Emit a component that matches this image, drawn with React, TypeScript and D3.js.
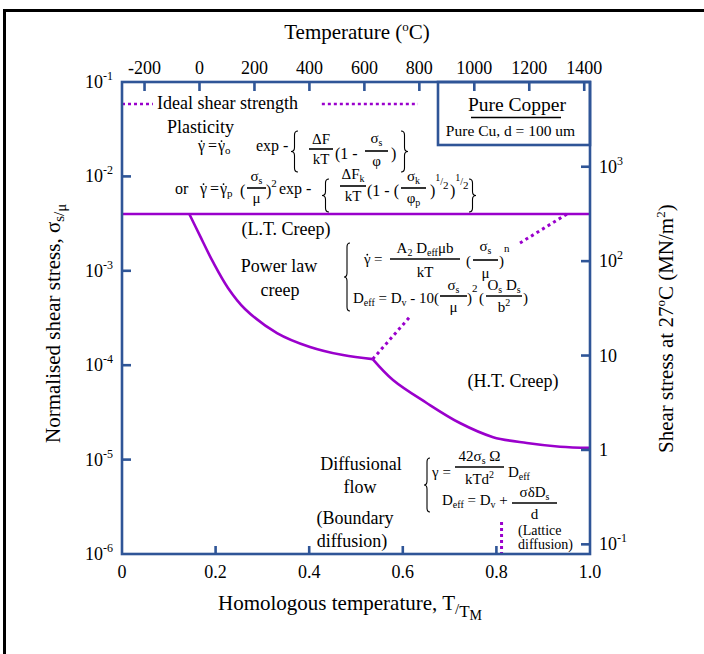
import React from "react";
import * as d3 from "d3";

const W = 704;
const H = 654;
const FONT = "'Liberation Serif','Times New Roman',Times,serif";
const BLUE = "#2f5597";
const PURPLE = "#9a00cc";

// ---- data ----
const homologousTicks = [0, 0.2, 0.4, 0.6, 0.8, 1.0];
const homologousTickLabels = ["0", "0.2", "0.4", "0.6", "0.8", "1.0"];
const temperatureTicks = [-200, 0, 200, 400, 600, 800, 1000, 1200, 1400];
const temperatureDomain = [-282, 1421];
const stressTicks = [1e-1, 1e-2, 1e-3, 1e-4, 1e-5, 1e-6];
const stressTickExponents = ["-1", "-2", "-3", "-4", "-5", "-6"];
const shearModulus = 7.9e4; // MN/m^2, links left and right axes
const shearTicks = [1000, 100, 10, 1, 0.1];
const shearTickBases = ["10", "10", "10", "1", "10"];
const shearTickExponents = ["3", "2", "", "", "-1"];

const ltCreepStress = 4.0e-3;
const idealStrength = 5.85e-2;
const idealSegmentsT = [
  [0, 0.066],
  [0.427, 0.6325],
];
const powerLawBoundaryT = [0.1438, 0.1667, 0.1944, 0.2265, 0.2628, 0.3312, 0.4017, 0.4722, 0.5357];
const powerLawBoundaryS = [4.0e-3, 2.34e-3, 1.24e-3, 6.58e-4, 3.94e-4, 2.19e-4, 1.56e-4, 1.28e-4, 1.16e-4];
const diffusionBoundaryT = [0.5357, 0.579, 0.651, 0.722, 0.793, 0.865, 0.936, 1.0];
const diffusionBoundaryS = [1.16e-4, 6.97e-5, 3.98e-5, 2.44e-5, 1.73e-5, 1.5e-5, 1.37e-5, 1.33e-5];
const dottedAT = [0.5357, 0.6154];
const dottedAS = [1.16e-4, 3.27e-4];
const dottedBT = [0.8504, 0.951];
const dottedBS = [1.97e-3, 4.0e-3];
const dottedCT = [0.811, 0.811];
const dottedCS = [2.18e-6, 1e-6];

// ---- layout ----
const X0 = 122;
const X1 = 590;
const Y0 = 554;
const Y1 = 82;

const x = d3.scaleLinear().domain([0, 1]).range([X0, X1]);
const y = d3.scaleLog().domain([1e-6, 1e-1]).range([Y0, Y1]);
const yR = d3.scaleLog().domain([1e-6 * shearModulus, 1e-1 * shearModulus]).range([Y0, Y1]);
const xTop = d3.scaleLinear().domain(temperatureDomain).range([X0, X1]);

const zip = (a: number[], b: number[]) => a.map((v, i) => [v, b[i]] as [number, number]);
const curve = d3
  .line<[number, number]>()
  .x((d) => x(d[0]))
  .y((d) => y(d[1]))
  .curve(d3.curveCatmullRom.alpha(0.5));
const straight = d3
  .line<[number, number]>()
  .x((d) => x(d[0]))
  .y((d) => y(d[1]));

function leftBrace(bx: number, y1: number, y2: number, w = 7) {
  const m = (y1 + y2) / 2;
  const r = 4;
  return `M${bx + w},${y1} Q${bx + w / 2},${y1} ${bx + w / 2},${y1 + r} L${bx + w / 2},${m - r} Q${bx + w / 2},${m} ${bx},${m} Q${bx + w / 2},${m} ${bx + w / 2},${m + r} L${bx + w / 2},${y2 - r} Q${bx + w / 2},${y2} ${bx + w},${y2}`;
}
function rightBrace(bx: number, y1: number, y2: number, w = 7) {
  const m = (y1 + y2) / 2;
  const r = 4;
  return `M${bx},${y1} Q${bx + w / 2},${y1} ${bx + w / 2},${y1 + r} L${bx + w / 2},${m - r} Q${bx + w / 2},${m} ${bx + w},${m} Q${bx + w / 2},${m} ${bx + w / 2},${m + r} L${bx + w / 2},${y2 - r} Q${bx + w / 2},${y2} ${bx},${y2}`;
}

const Sub = ({ t, fs = 10, s = 3 }: any) => (
  <tspan fontSize={fs} baselineShift={-s}>
    {t}
  </tspan>
);
const Sup = ({ t, fs = 11, s = 7 }: any) => (
  <tspan fontSize={fs} baselineShift={s}>
    {t}
  </tspan>
);

function Frac({ x1, x2, by, num, den, fs = 15, nOff = 5, dOff = 15 }: any) {
  const cx = (x1 + x2) / 2;
  return (
    <g>
      <line x1={x1} x2={x2} y1={by} y2={by} stroke="#000" strokeWidth={1.6} />
      <text x={cx} y={by - nOff} textAnchor="middle" fontSize={fs}>
        {num}
      </text>
      <text x={cx} y={by + dOff} textAnchor="middle" fontSize={fs}>
        {den}
      </text>
    </g>
  );
}

function GDot({ gx, gy, fs = 16 }: any) {
  return (
    <g>
      <text x={gx} y={gy} fontSize={fs}>
        γ
      </text>
      <circle cx={gx + fs * 0.22} cy={gy - fs * 0.62} r={0.9} fill="#000" />
    </g>
  );
}

export default function App() {
  return (
    <svg
      width={W}
      height={H}
      viewBox={`0 0 ${W} ${H}`}
      style={{ position: "absolute", left: 0, top: 0, background: "#fff" }}
      fontFamily={FONT}
      fill="#000"
    >
      <rect width={W} height={H} fill="#fff" />
      {/* outer frame */}
      <line x1={3} x2={W} y1={10.5} y2={10.5} stroke="#000" strokeWidth={3} />
      <line x1={4.5} x2={4.5} y1={9} y2={H} stroke="#000" strokeWidth={3} />

      {/* data lines */}
      <g fill="none" stroke={PURPLE}>
        <path d={straight([[0, ltCreepStress], [1, ltCreepStress]])!} strokeWidth={2.6} />
        <path d={curve(zip(powerLawBoundaryT, powerLawBoundaryS))!} strokeWidth={2.6} />
        <path d={curve(zip(diffusionBoundaryT, diffusionBoundaryS))!} strokeWidth={2.6} />
        {idealSegmentsT.map((s, i) => (
          <path
            key={i}
            d={straight([[s[0], idealStrength], [s[1], idealStrength]])!}
            strokeWidth={2.6}
            strokeDasharray="3 3"
          />
        ))}
        <path d={straight(zip(dottedAT, dottedAS))!} strokeWidth={3} strokeDasharray="3 3.5" />
        <path d={straight(zip(dottedBT, dottedBS))!} strokeWidth={3} strokeDasharray="3 3.5" />
        <path d={straight(zip(dottedCT, dottedCS))!} strokeWidth={3} strokeDasharray="3 3" />
      </g>

      {/* axes frame */}
      <g stroke={BLUE} strokeWidth={2.6} fill="none">
        <rect x={X0} y={Y1} width={X1 - X0} height={Y0 - Y1} />
        {homologousTicks.slice(1, -1).map((t) => (
          <line key={t} x1={x(t)} x2={x(t)} y1={Y0} y2={Y0 - 8} />
        ))}
        {temperatureTicks.map((t) => (
          <line key={t} x1={xTop(t)} x2={xTop(t)} y1={Y1} y2={Y1 + 9} />
        ))}
        {stressTicks.slice(1, -1).map((t) => (
          <line key={t} x1={X0} x2={X0 + 9} y1={y(t)} y2={y(t)} />
        ))}
        {shearTicks.map((t) => (
          <line key={t} x1={X1} x2={X1 - 9} y1={yR(t)} y2={yR(t)} />
        ))}
        {/* legend box */}
        <rect x={438} y={Y1} width={X1 - 438} height={63} />
      </g>

      {/* tick labels */}
      <g fontSize={18}>
        {homologousTicks.map((t, i) => (
          <text key={t} x={x(t)} y={578} textAnchor="middle">
            {homologousTickLabels[i]}
          </text>
        ))}
        {temperatureTicks.map((t) => (
          <text key={t} x={xTop(t)} y={74} textAnchor="middle">
            {String(t)}
          </text>
        ))}
        {stressTicks.map((t, i) => (
          <text key={t} x={113} y={y(t) + 6} textAnchor="end">
            10
            <Sup t={stressTickExponents[i]} fs={12} s={8} />
          </text>
        ))}
        {shearTicks.map((t, i) => (
          <text key={t} x={599} y={yR(t) + 6}>
            {shearTickBases[i]}
            {shearTickExponents[i] ? <Sup t={shearTickExponents[i]} fs={12} s={8} /> : null}
          </text>
        ))}
      </g>

      {/* axis titles */}
      <text x={357} y={39} fontSize={21} textAnchor="middle">
        Temperature (<Sup t="o" fs={13} s={8} />
        C)
      </text>
      <text x={218} y={610} fontSize={21}>
        Homologous temperature, T<Sub t="/" fs={15} s={4} />
        <Sub t="T" fs={17} s={7} />
        <Sub t="M" fs={14} s={10} />
      </text>
      <text transform="translate(60,443) rotate(-90)" fontSize={21}>
        Normalised shear stress, σ<Sub t="s/" fs={15} s={4} />
        <Sub t="μ" fs={15} s={6} />
      </text>
      <text transform="translate(673,453) rotate(-90)" fontSize={21}>
        Shear stress at 27<Sup t="o" fs={13} s={8} />C (MN/m<Sup t="2" fs={13} s={8} />)
      </text>

      {/* legend box text */}
      <text x={517} y={111} fontSize={19.5} textAnchor="middle">
        Pure Copper
      </text>
      <line x1={471} x2={561} y1={117.5} y2={117.5} stroke="#000" strokeWidth={1.6} />
      <text x={510.5} y={136} fontSize={15.5} textAnchor="middle">
        Pure Cu, d = 100 um
      </text>

      {/* region labels */}
      <g fontSize={18}>
        <text x={157} y={109}>Ideal shear strength</text>
        <text x={167} y={133}>Plasticity</text>
        <text x={286} y={235} textAnchor="middle">
          (L.T. Creep)
        </text>
        <text x={279} y={272} textAnchor="middle">
          Power law
        </text>
        <text x={280} y={296} textAnchor="middle">
          creep
        </text>
        <text x={513} y={387} textAnchor="middle">
          (H.T. Creep)
        </text>
        <text x={361} y={470} textAnchor="middle">
          Diffusional
        </text>
        <text x={360} y={493} textAnchor="middle">
          flow
        </text>
        <text x={355} y={524} textAnchor="middle">
          (Boundary
        </text>
        <text x={352} y={547} textAnchor="middle">
          diffusion)
        </text>
      </g>
      <g fontSize={14}>
        <text x={518} y={535}>(Lattice</text>
        <text x={518} y={549}>diffusion)</text>
      </g>

      {/* plasticity equations */}
      <g fontSize={16}>
        <GDot gx={198} gy={151} />
        <text x={208} y={151}>=</text>
        <GDot gx={218} gy={151} />
        <text x={225} y={151}>
          <Sub t="o" fs={11} s={3} />
        </text>
        <text x={256} y={151}>exp -</text>
        <path d={leftBrace(291, 131, 172)} fill="none" stroke="#000" strokeWidth={1.1} />
        <Frac x1={309} x2={333} by={149} num="ΔF" den="kT" fs={15} />
        <text x={335} y={159}>(1 -</text>
        <Frac
          x1={365}
          x2={388}
          by={151}
          num={
            <>
              σ<Sub t="s" />
            </>
          }
          den="φ"
          fs={15}
          nOff={8}
        />
        <text x={391} y={159}>)</text>
        <path d={rightBrace(401, 131, 172)} fill="none" stroke="#000" strokeWidth={1.1} />

        <text x={175} y={194}>or</text>
        <GDot gx={200} gy={194} />
        <text x={210} y={194}>=</text>
        <GDot gx={220} gy={194} />
        <text x={227} y={194}>
          <Sub t="p" fs={11} s={3} />
        </text>
        <text x={240} y={196}>(</text>
        <Frac
          x1={247}
          x2={266}
          by={188}
          num={
            <>
              σ<Sub t="s" />
            </>
          }
          den="μ"
          fs={15}
          nOff={7}
        />
        <text x={266} y={196}>
          )<Sup t="2" fs={11} s={9} />
        </text>
        <text x={279} y={194}>exp -</text>
        <path d={leftBrace(322, 179, 212)} fill="none" stroke="#000" strokeWidth={1.1} />
        <Frac
          x1={340}
          x2={366}
          by={186}
          num={
            <>
              ΔF<Sub t="k" />
            </>
          }
          den="kT"
          fs={15}
          nOff={7}
        />
        <text x={367} y={196}>(1 - (</text>
        <Frac
          x1={401}
          x2={426}
          by={188}
          num={
            <>
              σ<Sub t="k" />
            </>
          }
          den={
            <>
              φ<Sub t="p" />
            </>
          }
          fs={15}
          nOff={7}
        />
        <text x={430} y={196}>
          )<Sup t="1" fs={10} s={15} />
          <Sup t="/" fs={10} s={11} />
          <Sup t="2" fs={11} s={7} />
        </text>
        <text x={450} y={196}>
          )<Sup t="1" fs={10} s={15} />
          <Sup t="/" fs={10} s={11} />
          <Sup t="2" fs={11} s={7} />
        </text>
        <path d={rightBrace(469, 179, 212)} fill="none" stroke="#000" strokeWidth={1.1} />
      </g>

      {/* power law equations */}
      <g fontSize={15}>
        <path d={leftBrace(344, 243, 311, 6)} fill="none" stroke="#000" strokeWidth={1.1} />
        <GDot gx={364} gy={264} fs={15} />
        <text x={374} y={264}>=</text>
        <Frac
          x1={390}
          x2={460}
          by={259}
          num={
            <>
              A<Sub t="2" /> D<Sub t="eff" />
              μb
            </>
          }
          den="kT"
          nOff={6}
          dOff={18}
        />
        <text x={466} y={266}>(</text>
        <Frac
          x1={473}
          x2={498}
          by={260}
          num={
            <>
              σ<Sub t="s" />
            </>
          }
          den="μ"
          nOff={9}
          dOff={18}
        />
        <text x={499} y={266}>
          )<Sup t="n" fs={11} s={14} />
        </text>

        <text x={353} y={303}>
          D<Sub t="eff" /> = D<Sub t="v" /> - 10(
        </text>
        <Frac
          x1={440}
          x2={467}
          by={296}
          num={
            <>
              σ<Sub t="s" />
            </>
          }
          den="μ"
          nOff={6}
          dOff={16}
        />
        <text x={467} y={303}>
          )<Sup t="2" fs={11} s={11} />
        </text>
        <text x={479} y={303}>(</text>
        <Frac
          x1={486}
          x2={522}
          by={296}
          num={
            <>
              O<Sub t="s" /> D<Sub t="s" />
            </>
          }
          den={
            <>
              b<Sup t="2" fs={10} s={6} />
            </>
          }
          nOff={6}
          dOff={16}
        />
        <text x={523} y={303}>)</text>
      </g>

      {/* diffusional flow equations */}
      <g fontSize={15}>
        <path d={leftBrace(424, 458, 512, 6)} fill="none" stroke="#000" strokeWidth={1.1} />
        <text x={432} y={477}>γ =</text>
        <Frac
          x1={455}
          x2={504}
          by={467}
          num={
            <>
              42σ<Sub t="s" /> Ω
            </>
          }
          den={
            <>
              kTd<Sup t="2" fs={10} s={6} />
            </>
          }
          nOff={6}
          dOff={17}
        />
        <text x={508} y={477}>
          D<Sub t="eff" />
        </text>
        <text x={442} y={505}>
          D<Sub t="eff" /> = D<Sub t="v" /> +
        </text>
        <Frac
          x1={512}
          x2={557}
          by={503}
          num={
            <>
              σδD<Sub t="s" />
            </>
          }
          den="d"
          nOff={6}
          dOff={16}
        />
      </g>
    </svg>
  );
}
